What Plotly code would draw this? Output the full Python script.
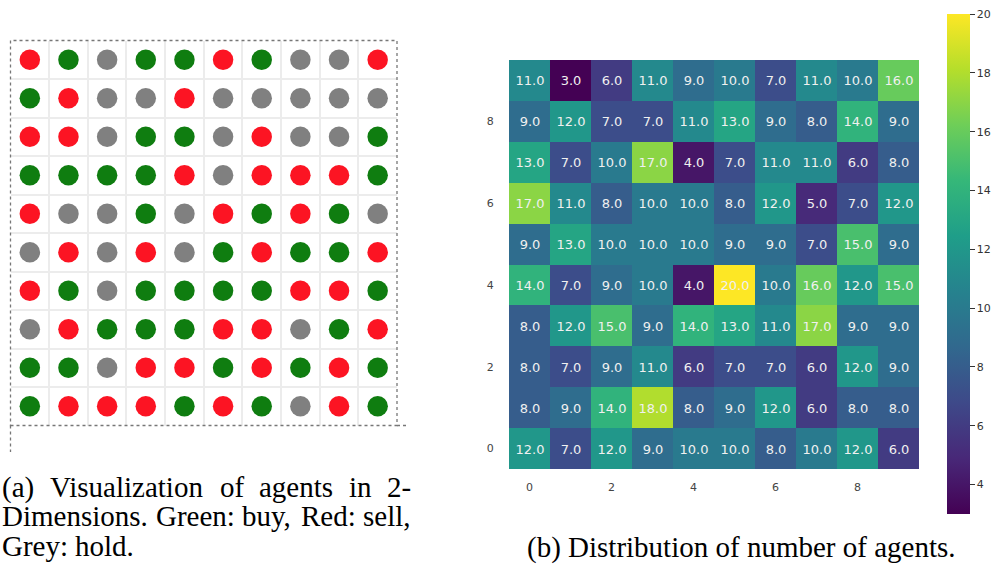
import plotly.graph_objects as go

# ---------------- data ----------------
# Panel (a): agent actions, rows listed top to bottom, G=buy, R=sell, H=hold
agent_rows = [
    "RGHGGRGHHR",
    "GRHHRHHHHH",
    "RRHGGHRHHG",
    "GGGGRHRRRG",
    "RHHGHRGRGH",
    "HRHRHGRGGR",
    "RGHGGGGRRG",
    "HRGGGRRHGR",
    "GGHRRGRGRG",
    "GRRRGRGHRG",
]
action_colors = {"G": "#0f7d10", "R": "#fc1423", "H": "#808080"}

# Panel (b): number of agents per cell, rows listed top (y=9) to bottom (y=0)
heat_y = [9, 8, 7, 6, 5, 4, 3, 2, 1, 0]
heat_counts = [
    [11, 3, 6, 11, 9, 10, 7, 11, 10, 16],
    [9, 12, 7, 7, 11, 13, 9, 8, 14, 9],
    [13, 7, 10, 17, 4, 7, 11, 11, 6, 8],
    [17, 11, 8, 10, 10, 8, 12, 5, 7, 12],
    [9, 13, 10, 10, 10, 9, 9, 7, 15, 9],
    [14, 7, 9, 10, 4, 20, 10, 16, 12, 15],
    [8, 12, 15, 9, 14, 13, 11, 17, 9, 9],
    [8, 7, 9, 11, 6, 7, 7, 6, 12, 9],
    [8, 9, 14, 18, 8, 9, 12, 6, 8, 8],
    [12, 7, 12, 9, 10, 10, 8, 10, 12, 6],
]
heat_x = list(range(10))
axis_ticks = [0, 2, 4, 6, 8]
cbar_ticks = [4, 6, 8, 10, 12, 14, 16, 18, 20]

caption_a = ["(a) Visualization of agents in 2-",
             "Dimensions. Green: buy, Red: sell,",
             "Grey: hold."]
caption_b = "(b) Distribution of number of agents."

# ---------------- layout helpers ----------------
W, H = 999, 571
def px(x): return x / W
def py(y): return 1 - y / H

fig = go.Figure()

# Panel (a) scatter
xs, ys, cs = [], [], []
for r, row in enumerate(agent_rows):
    for c, a in enumerate(row):
        xs.append(c); ys.append(r); cs.append(action_colors[a])
fig.add_trace(go.Scatter(
    x=xs, y=ys, mode="markers",
    marker=dict(size=20.5, color=cs, line=dict(width=0)),
    xaxis="x", yaxis="y", showlegend=False, hoverinfo="skip"))

# Panel (b) heatmap
fig.add_trace(go.Heatmap(
    z=heat_counts, x=heat_x, y=heat_y,
    colorscale="Viridis", zmin=3, zmax=20,
    texttemplate="%{z:.1f}",
    textfont=dict(family="DejaVu Sans", size=13, color="#f0f0f0"),
    xaxis="x2", yaxis="y2", hoverinfo="skip",
    colorbar=dict(
        x=px(947), xanchor="left", xpad=0, ypad=0,
        thickness=23, thicknessmode="pixels",
        y=py(264), yanchor="middle", len=500 / H, lenmode="fraction",
        outlinewidth=0, tickvals=cbar_ticks, ticks="outside", ticklen=5,
        tickwidth=1.2, tickcolor="#333",
        tickfont=dict(family="DejaVu Sans", size=11, color="#333"),
    ),
))

L, R, T, B = 10.5, 397, 40.5, 425.5
fig.update_layout(
    width=W, height=H,
    margin=dict(l=0, r=0, t=0, b=0, pad=0, autoexpand=False),
    paper_bgcolor="white", plot_bgcolor="white",
    xaxis=dict(domain=[px(L), px(R)], range=[-0.5, 9.5],
               tickvals=[i + 0.5 for i in range(9)], showticklabels=False,
               showgrid=True, gridcolor="#ececec", gridwidth=1.5,
               zeroline=False, ticks=""),
    yaxis=dict(domain=[py(B), py(T)], range=[9.5, -0.5],
               tickvals=[i + 0.5 for i in range(9)], showticklabels=False,
               showgrid=True, gridcolor="#ececec", gridwidth=1.5,
               zeroline=False, ticks=""),
    xaxis2=dict(domain=[px(509), px(919)], range=[-0.5, 9.5],
                tickvals=axis_ticks, ticks="outside", ticklen=8,
                tickcolor="rgba(0,0,0,0)", showgrid=False, zeroline=False,
                tickfont=dict(family="DejaVu Sans", size=11, color="#444"),
                anchor="y2"),
    yaxis2=dict(domain=[py(469), py(60)], range=[-0.5, 9.5],
                tickvals=axis_ticks, ticks="outside", ticklen=12,
                tickcolor="rgba(0,0,0,0)", showgrid=False, zeroline=False,
                tickfont=dict(family="DejaVu Sans", size=11, color="#444"),
                anchor="x2"),
)

# dotted frame of panel (a)
dot = dict(color="#777", width=1.3, dash="dot")
fig.add_shape(type="rect", xref="paper", yref="paper",
              x0=px(L), x1=px(R), y0=py(B), y1=py(T), line=dot)
fig.add_shape(type="line", xref="paper", yref="paper",
              x0=px(L), x1=px(L), y0=py(B), y1=py(452), line=dot)
fig.add_shape(type="line", xref="paper", yref="paper",
              x0=px(R), x1=px(408), y0=py(B), y1=py(B), line=dot)

# ---------------- captions (justified like the source) ----------------
TIMES = {
    "a": 444, "b": 500, "c": 444, "d": 500, "e": 444, "f": 333, "g": 500,
    "h": 500, "i": 278, "j": 278, "k": 500, "l": 278, "m": 778, "n": 500,
    "o": 500, "p": 500, "q": 500, "r": 333, "s": 389, "t": 278, "u": 500,
    "v": 500, "w": 722, "x": 500, "y": 500, "z": 444,
    "D": 722, "G": 722, "R": 667, "V": 722,
    "(": 333, ")": 333, ".": 250, ",": 250, ":": 278, "-": 333, "2": 500,
}
FS = 29
def wwidth(w): return sum(TIMES.get(ch, 500) for ch in w) * FS / 1000.0

cap_font = dict(family="Liberation Serif", size=FS, color="black")
line_y = [487, 516, 546]
for i, line in enumerate(caption_a):
    words = line.split(" ")
    justify = i < len(caption_a) - 1
    widths = [wwidth(w) for w in words]
    if justify:
        gap = (409 - sum(widths)) / (len(words) - 1)
    else:
        gap = 0.25 * FS
    x = 0.0
    for w, wd in zip(words, widths):
        fig.add_annotation(text=w, xref="paper", yref="paper",
                           x=px(x), y=py(line_y[i]), xanchor="left",
                           yanchor="middle", showarrow=False, font=cap_font)
        x += wd + gap

fig.add_annotation(text=caption_b, xref="paper", yref="paper",
                   x=px(741), y=py(547), xanchor="center", yanchor="middle",
                   showarrow=False, font=cap_font)

fig.write_html("out.html",
               config={"displayModeBar": False},
               post_script="document.body.style.margin='0px';"
                           "document.body.style.padding='0px';")
